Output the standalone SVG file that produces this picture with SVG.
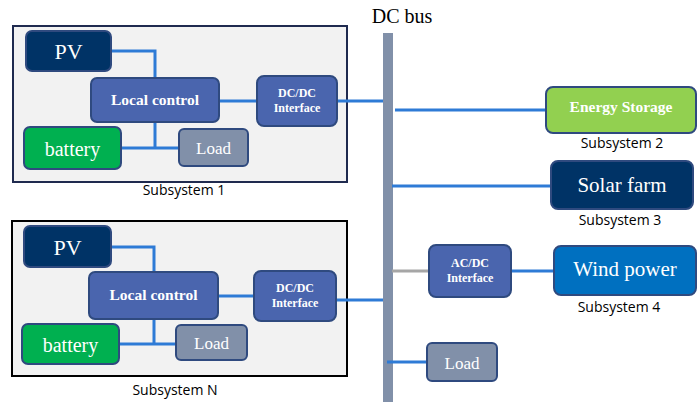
<svg xmlns="http://www.w3.org/2000/svg" width="700" height="407" viewBox="0 0 700 407">
<style>
.frame{fill:#f2f2f2;stroke-width:2}
.nd{stroke:#2f4a7f;stroke-width:2}
.pv{fill:#003366}
.lc{fill:#4a65ae}
.bat{fill:#00b050}
.ld{fill:#8190a9}
.es{fill:#92d050}
.wp{fill:#0070c0}
.t{font-family:"Liberation Serif","Times New Roman",serif;fill:#fff;text-anchor:middle}
.b{font-weight:bold}
.cap{font-family:"Open Sans","Liberation Sans",Arial,sans-serif;font-size:14px;fill:#000;text-anchor:middle}
.w{fill:none;stroke:#2e7bd6;stroke-width:3}
</style>
<g id="subsystem1">
<rect class="frame" x="13" y="26" width="334" height="156" stroke="#1f2a4f"/>
<text class="cap" x="184" y="195">Subsystem 1</text>
</g>
<g id="subsystemN">
<rect class="frame" x="12" y="221" width="335" height="155" stroke="#000"/>
<text class="cap" x="175" y="395">Subsystem N</text>
</g>
<g id="dcbus">
<rect x="383" y="33" width="10" height="369" fill="#8190a9"/>
<text x="402" y="23" font-family="Liberation Serif,serif" font-size="20" text-anchor="middle" fill="#000">DC bus</text>
</g>
<g id="connectors">
<path class="w" d="M111 51H155V78M219 101H257M155 122V148M121 148H179M337 101H383"/>
<path class="w" d="M111 247H154V272M218 296H254M154 319V344M119 344H176M336 300H383"/>
<path class="w" d="M395 110H546M392 186H551M511 271H554M387 362H427"/>
<path d="M392 271H429" stroke="#a6a6a6" stroke-width="3" fill="none"/>
</g>
<g id="pv1"><rect class="nd pv" x="26" y="31" width="85" height="40" rx="6"/><text class="t" x="68.5" y="59" font-size="22">PV</text></g>
<g id="lc1"><rect class="nd lc" x="91" y="78" width="128" height="44" rx="6"/><text class="t b" x="155" y="105" font-size="15.5">Local control</text></g>
<g id="dcdc1"><rect class="nd lc" x="257" y="76" width="80" height="50" rx="7"/><text class="t b" x="297" y="97" font-size="12">DC/DC</text><text class="t b" x="297" y="112" font-size="12">Interface</text></g>
<g id="bat1"><rect class="nd bat" x="24" y="127" width="97" height="42" rx="6"/><text class="t" x="72.5" y="156" font-size="20">battery</text></g>
<g id="load1"><rect class="nd ld" x="179" y="129" width="69" height="37" rx="5"/><text class="t" x="213.5" y="154" font-size="17">Load</text></g>
<g id="pvN"><rect class="nd pv" x="24" y="226" width="87" height="41" rx="6"/><text class="t" x="67.5" y="255" font-size="22">PV</text></g>
<g id="lcN"><rect class="nd lc" x="89" y="272" width="129" height="47" rx="6"/><text class="t b" x="153.5" y="300" font-size="15.5">Local control</text></g>
<g id="dcdcN"><rect class="nd lc" x="254" y="271" width="82" height="50" rx="7"/><text class="t b" x="295" y="292" font-size="12">DC/DC</text><text class="t b" x="295" y="307" font-size="12">Interface</text></g>
<g id="batN"><rect class="nd bat" x="22" y="324" width="97" height="40" rx="6"/><text class="t" x="70.5" y="352" font-size="20">battery</text></g>
<g id="loadN"><rect class="nd ld" x="176" y="325" width="71" height="35" rx="5"/><text class="t" x="211.5" y="349" font-size="17">Load</text></g>
<g id="energyStorage"><rect class="nd es" x="546" y="87" width="150" height="46" rx="7"/><text class="t b" x="621" y="112" font-size="15.5">Energy Storage</text><text class="cap" x="622" y="148">Subsystem 2</text></g>
<g id="solarFarm"><rect class="nd pv" x="551" y="161" width="142" height="48" rx="7"/><text class="t" x="622" y="192" font-size="21">Solar farm</text><text class="cap" x="620" y="225">Subsystem 3</text></g>
<g id="acdc"><rect class="nd lc" x="429" y="245" width="82" height="52" rx="7"/><text class="t b" x="470" y="267" font-size="12">AC/DC</text><text class="t b" x="470" y="282" font-size="12">Interface</text></g>
<g id="windPower"><rect class="nd wp" x="554" y="246" width="142" height="49" rx="7"/><text class="t" x="625" y="276" font-size="21">Wind power</text><text class="cap" x="619" y="312">Subsystem 4</text></g>
<g id="load"><rect class="nd ld" x="427" y="343" width="70" height="38" rx="5"/><text class="t" x="462" y="369" font-size="17">Load</text></g>
</svg>
